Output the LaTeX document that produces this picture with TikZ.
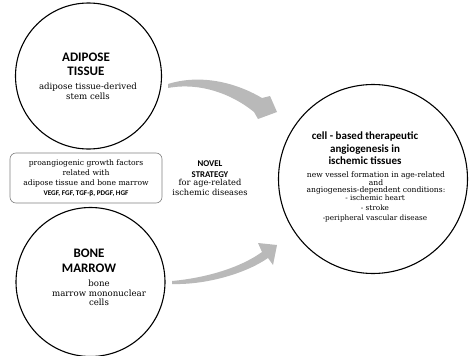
\documentclass[tikz,border=0pt]{standalone}
\usepackage{fontspec}
\setmainfont{DejaVu Serif}
\setsansfont{Carlito}
\usetikzlibrary{positioning,calc}
\tikzset{
  organ/.style={circle, draw, line width=1.1pt, inner sep=0pt},
  heading/.style={font=\sffamily\bfseries, align=center, inner sep=0pt},
  plain/.style={align=center, inner sep=0pt},
  bendarrow/.style={fill=gray!55, draw=none}
}

\begin{document}
\begin{tikzpicture}[x=1pt,y=-1pt]
    \useasboundingbox (0,0) rectangle (469,356);
    % the three circles
    \node [organ, minimum size=146pt] (adipose) at (88.5,76) {};
    \node [organ, minimum size=149pt] (marrow) at (90.5,282) {};
    \node [organ, minimum size=189pt] (therapy) at (373,179) {};
    % box with growth factors
    \node [draw=gray, line width=0.6pt, rounded corners=6pt, minimum width=152pt, minimum height=50pt, plain,
           font=\fontsize{7.6}{10}\selectfont] (factors) at (86,178)
        {proangiogenic growth factors\\related with\\adipose tissue and bone marrow\\
         {\sffamily\bfseries\fontsize{7.2}{9}\selectfont VEGF, FGF, TGF-β, PDGF, HGF}};
    % texts in the circles
    \node [heading, font=\sffamily\bfseries\fontsize{13}{14}\selectfont] (adiposehead) at (86,64) {ADIPOSE\\TISSUE};
    \node [plain, font=\fontsize{8.6}{10}\selectfont] (adiposetext) at (88,91) {adipose tissue-derived\\stem cells};
    \node [heading, font=\sffamily\bfseries\fontsize{13}{15}\selectfont] (marrowhead) at (89,260.5) {BONE\\MARROW};
    \node [plain, font=\fontsize{8.6}{9.5}\selectfont] (marrowtext) at (99,293) {bone\\marrow mononuclear\\cells};
    \node [heading, font=\sffamily\bfseries\fontsize{11}{12.5}\selectfont] (therapyhead) at (365,148.5)
        {cell - based therapeutic\\angiogenesis in\\ischemic tissues};
    \node [plain, font=\fontsize{7.6}{6.5}\selectfont] (therapycond) at (376,182.5) {new vessel formation in age-related\\and\\angiogenesis-dependent conditions:};
    \node [plain, font=\fontsize{7.3}{10}\selectfont] (therapylist) at (375,208) {- ischemic heart\\- stroke\\-peripheral vascular disease};
    % strategy text
    \node [heading, font=\sffamily\bfseries\fontsize{8.8}{11}\selectfont] (novel) at (210,169) {NOVEL\\STRATEGY};
    \node [plain, font=\fontsize{8.3}{10.5}\selectfont, below=1pt of novel] (strategy) {for age-related\\ischemic diseases};
    % gray arrows
    \fill [bendarrow] (168,84) .. controls (200,74) and (235,82) .. (262,98)
        -- (270,96) -- (277,112) -- (258,119) -- (254,112)
        .. controls (232,94) and (200,82) .. (168,88) -- cycle;
    \fill [bendarrow] (172,281) .. controls (205,278) and (240,268) .. (262,252)
        -- (258,243) -- (277,245) -- (273,265) -- (268,258)
        .. controls (245,274) and (205,285) .. (172,284) -- cycle;
\end{tikzpicture}
\end{document}
